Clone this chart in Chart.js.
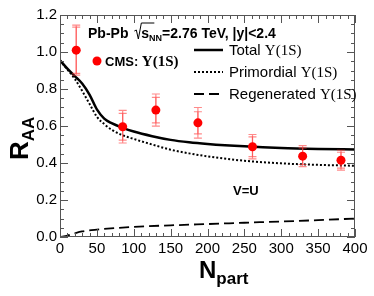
<!DOCTYPE html>
<html>
<head>
<meta charset="utf-8">
<script src="https://cdn.jsdelivr.net/npm/chart.js@4"></script>
<style>
  html, body { margin: 0; padding: 0; background: #fff; }
  #wrap { width: 374px; height: 296px; }
</style>
</head>
<body>
<div id="wrap"><canvas id="chartRaa"></canvas></div>
<script>
// ---- Datos ----
var npartCurve  = [0, 10, 20, 30, 40, 50, 60, 70, 85, 100, 125, 150, 175, 200, 250, 300, 350, 400];
var totalRaa    = [0.955, 0.91, 0.87, 0.83, 0.77, 0.69, 0.64, 0.615, 0.59, 0.57, 0.545, 0.525, 0.512, 0.503, 0.49, 0.481, 0.476, 0.473];
var primRaa     = [0.955, 0.905, 0.855, 0.79, 0.72, 0.65, 0.61, 0.58, 0.55, 0.53, 0.50, 0.472, 0.452, 0.436, 0.412, 0.398, 0.39, 0.385];
var npartRegen  = [0, 10, 20, 30, 50, 75, 100, 150, 200, 250, 300, 350, 400];
var regenRaa    = [0, 0.008, 0.02, 0.03, 0.04, 0.048, 0.055, 0.063, 0.07, 0.077, 0.084, 0.091, 0.1];

var npartCms    = [22, 85, 130, 187, 261, 329, 381];
var raaCms      = [1.01, 0.596, 0.686, 0.617, 0.488, 0.437, 0.415];
var errSyst     = [0.135, 0.088, 0.087, 0.083, 0.066, 0.057, 0.054];
var errStat     = [0.125, 0.072, 0.069, 0.060, 0.053, 0.045, 0.043];

var xTicks = [0, 50, 100, 150, 200, 250, 300, 350, 400];
var yTicks = [0.0, 0.2, 0.4, 0.6, 0.8, 1.0, 1.2];

function pares(xs, ys) {
  return xs.map(function(x, i) { return { x: x, y: ys[i] }; });
}

var SANS = '"Liberation Sans", Arial, sans-serif';
var SERIF = '"Liberation Serif", "Times New Roman", serif';

// Dibuja una fila de trozos de texto con fuentes distintas
function textoMixto(ctx, x, y, trozos) {
  trozos.forEach(function(t) {
    ctx.font = t.f;
    ctx.fillText(t.s, x, y + (t.dy || 0));
    x += ctx.measureText(t.s).width + (t.gap || 0);
  });
  return x;
}

// ---- Marco, ticks internos, barras de error y textos ----
var estiloRoot = {
  id: 'estiloRoot',
  afterDatasetsDraw: function(chart) {
    var ctx = chart.ctx, a = chart.chartArea;
    var sx = chart.scales.x, sy = chart.scales.y;
    ctx.save();

    // barras de error (sistemático + estadístico)
    ctx.strokeStyle = 'rgba(255,60,60,0.6)';
    ctx.lineWidth = 1.2;
    npartCms.forEach(function(n, i) {
      var px = sx.getPixelForValue(n);
      [errSyst[i], errStat[i]].forEach(function(e) {
        var yt = sy.getPixelForValue(raaCms[i] + e);
        var yb = sy.getPixelForValue(raaCms[i] - e);
        ctx.beginPath();
        ctx.moveTo(px, yt); ctx.lineTo(px, yb);
        ctx.moveTo(px - 4, yt); ctx.lineTo(px + 4, yt);
        ctx.moveTo(px - 4, yb); ctx.lineTo(px + 4, yb);
        ctx.stroke();
      });
    });
    // puntos CMS encima
    ctx.fillStyle = '#ff0000';
    npartCms.forEach(function(n, i) {
      ctx.beginPath();
      ctx.arc(sx.getPixelForValue(n), sy.getPixelForValue(raaCms[i]), 4.5, 0, Math.PI * 2);
      ctx.fill();
    });

    // marco
    ctx.strokeStyle = '#555';
    ctx.lineWidth = 1;
    ctx.strokeRect(a.left + 0.5, a.top + 0.5, a.right - a.left - 1, a.bottom - a.top - 1);

    // ticks hacia dentro, en los cuatro lados
    ctx.beginPath();
    for (var v = 0; v <= 400.001; v += 10) {
      var px = Math.round(sx.getPixelForValue(v)) + 0.5;
      var L = (v % 50 === 0) ? 8 : 4;
      ctx.moveTo(px, a.bottom); ctx.lineTo(px, a.bottom - L);
      ctx.moveTo(px, a.top); ctx.lineTo(px, a.top + L);
    }
    for (var k = 0; k <= 24; k++) {
      var py = Math.round(sy.getPixelForValue(k * 0.05)) + 0.5;
      var Ly = (k % 4 === 0) ? 8 : 4;
      ctx.moveTo(a.left, py); ctx.lineTo(a.left + Ly, py);
      ctx.moveTo(a.right, py); ctx.lineTo(a.right - Ly, py);
    }
    ctx.stroke();

    // títulos de ejes
    ctx.fillStyle = '#000';
    ctx.textBaseline = 'alphabetic';
    textoMixto(ctx, 199, 278, [
      { s: 'N', f: 'bold 24px ' + SANS },
      { s: 'part', f: 'bold 17px ' + SANS, dy: 6 }
    ]);
    ctx.save();
    ctx.translate(28, 160);
    ctx.rotate(-Math.PI / 2);
    textoMixto(ctx, 0, 0, [
      { s: 'R', f: 'bold 26px ' + SANS },
      { s: 'AA', f: 'bold 17px ' + SANS, dy: 6 }
    ]);
    ctx.restore();

    // cabecera
    var x = textoMixto(ctx, 88, 38, [
      { s: 'Pb-Pb ', f: 'bold 14px ' + SANS, gap: 2 }
    ]);
    ctx.strokeStyle = '#000';
    ctx.lineWidth = 1;
    ctx.beginPath();
    ctx.moveTo(x, 31); ctx.lineTo(x + 2, 30); ctx.lineTo(x + 4, 39); ctx.lineTo(x + 7, 23); ctx.lineTo(x + 20, 23);
    ctx.stroke();
    textoMixto(ctx, x + 7, 38, [
      { s: 's', f: 'bold 14px ' + SANS },
      { s: 'NN', f: 'bold 9px ' + SANS, dy: 3 },
      { s: '=2.76 TeV, |y|<2.4', f: 'bold 14px ' + SANS }
    ]);

    // leyenda CMS
    ctx.fillStyle = '#ff0000';
    ctx.beginPath();
    ctx.arc(97, 61, 4.5, 0, Math.PI * 2);
    ctx.fill();
    ctx.fillStyle = '#000';
    textoMixto(ctx, 105, 66, [
      { s: 'CMS: ', f: 'bold 13px ' + SANS },
      { s: 'Υ(1S)', f: 'bold 15px ' + SERIF }
    ]);

    // leyenda de curvas
    var filas = [
      { t: 'Total ', y: 50, dash: [], w: 2.5 },
      { t: 'Primordial ', y: 72, dash: [2, 2], w: 2 },
      { t: 'Regenerated ', y: 94, dash: [10, 5], w: 1.8 }
    ];
    filas.forEach(function(r) {
      ctx.setLineDash(r.dash);
      ctx.lineWidth = r.w;
      ctx.beginPath();
      ctx.moveTo(194, r.y); ctx.lineTo(223, r.y);
      ctx.stroke();
      ctx.setLineDash([]);
      textoMixto(ctx, 229, r.y + 5, [
        { s: r.t, f: '15px ' + SANS },
        { s: 'Υ(1S)', f: '15px ' + SERIF }
      ]);
    });

    ctx.font = 'bold 13px ' + SANS;
    ctx.fillText('V=U', 233, 195);
    ctx.restore();
  }
};

var lineaBase = {
  fill: false,
  pointRadius: 0,
  borderColor: '#000',
  cubicInterpolationMode: 'monotone'
};

new Chart(document.getElementById('chartRaa'), {
  type: 'line',
  data: {
    datasets: [
      Object.assign({}, lineaBase, { label: 'Total', data: pares(npartCurve, totalRaa), borderWidth: 2.5 }),
      Object.assign({}, lineaBase, { label: 'Primordial', data: pares(npartCurve, primRaa), borderWidth: 2, borderDash: [2, 2] }),
      Object.assign({}, lineaBase, { label: 'Regenerated', data: pares(npartRegen, regenRaa), borderWidth: 1.8, borderDash: [10, 5] })
    ]
  },
  options: {
    responsive: true,
    maintainAspectRatio: false,
    animation: false,
    layout: { padding: { top: 15, right: 19, left: 0, bottom: 0 } },
    plugins: { legend: { display: false }, tooltip: { enabled: false } },
    scales: {
      x: {
        type: 'linear', min: 0, max: 400,
        afterFit: function(s) { s.height = 59; },
        afterBuildTicks: function(s) { s.ticks = xTicks.map(function(v) { return { value: v }; }); },
        grid: { display: false, drawTicks: false },
        border: { display: false },
        ticks: { autoSkip: false, maxRotation: 0, padding: 3, color: '#000', font: { family: SANS, size: 15 } }
      },
      y: {
        type: 'linear', min: 0, max: 1.2,
        afterFit: function(s) { s.width = 60; },
        afterBuildTicks: function(s) { s.ticks = yTicks.map(function(v) { return { value: v }; }); },
        grid: { display: false, drawTicks: false },
        border: { display: false },
        ticks: {
          padding: 3, color: '#000', font: { family: SANS, size: 15 },
          callback: function(v) { return v.toFixed(1); }
        }
      }
    }
  },
  plugins: [estiloRoot]
});
</script>
</body>
</html>
